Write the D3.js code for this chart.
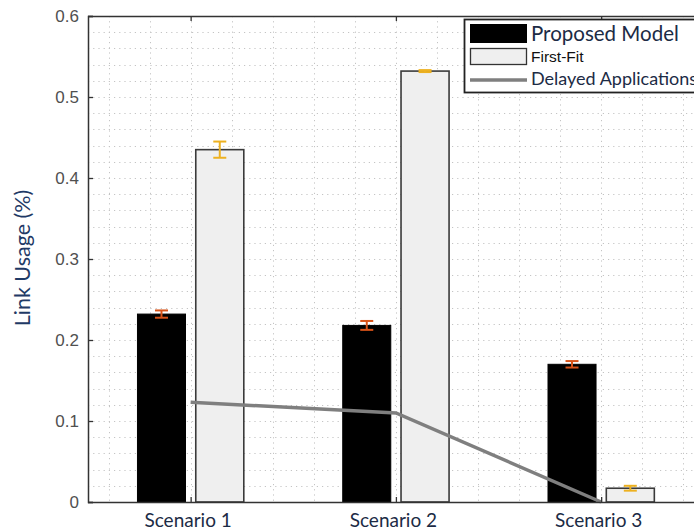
<!DOCTYPE html>
<html>
<head>
<meta charset="utf-8">
<script src="https://cdn.jsdelivr.net/npm/d3@7"></script>
<style>
  html, body { margin: 0; padding: 0; background: #fff; }
  svg { display: block; }
</style>
</head>
<body>
<svg id="chart" width="694" height="532"></svg>
<script>
// Link usage per scenario
const scenarios = ["Scenario 1", "Scenario 2", "Scenario 3"];
const proposedModel = [0.232, 0.218, 0.170];
const proposedErr = [0.0045, 0.0055, 0.004];
const firstFit = [0.435, 0.532, 0.017];
const firstFitErr = [0.010, 0.0012, 0.003];
const delayedApps = [0.123, 0.110, 0.0];
const yTicks = [0, 0.1, 0.2, 0.3, 0.4, 0.5, 0.6];
const legendLabels = ["Proposed Model", "First-Fit", "Delayed Applications"];

const svg = d3.select("#chart");
const plotLeft = 88, plotTop = 16, plotBottom = 502;

// x in category units: scenario i sits at i+1, frame spans 0.5 .. 3.5
const x = d3.scaleLinear().domain([0.5, 3.5]).range([plotLeft, 703.8]);
const y = d3.scaleLinear().domain([0, 0.6]).range([plotBottom, plotTop]);

const barOffset = 0.142, barW = 0.234;
const gridColor = "#c4c4c4";

// dotted grid
const g = svg.append("g");
d3.range(0.02, 0.6, 0.02).forEach(v => {
  g.append("line")
    .attr("x1", plotLeft).attr("x2", 694)
    .attr("y1", Math.round(y(v)) + 0.5).attr("y2", Math.round(y(v)) + 0.5)
    .attr("stroke", gridColor).attr("stroke-width", 1)
    .attr("stroke-dasharray", "1.2,4");
});
d3.range(0.6, 3.5, 0.2).forEach(v => {
  g.append("line")
    .attr("y1", plotTop).attr("y2", plotBottom)
    .attr("x1", Math.round(x(v)) + 0.5).attr("x2", Math.round(x(v)) + 0.5)
    .attr("stroke", gridColor).attr("stroke-width", 1)
    .attr("stroke-dasharray", "1.2,4");
});

// bars
const idx = d3.range(scenarios.length);
const bw = x(barW) - x(0);
svg.append("g").selectAll("rect").data(idx).join("rect")
  .attr("x", i => x(i + 1 - barOffset) - bw / 2)
  .attr("y", i => y(proposedModel[i]))
  .attr("width", bw)
  .attr("height", i => y(0) - y(proposedModel[i]))
  .attr("fill", "#000").attr("stroke", "#000").attr("stroke-width", 1);

svg.append("g").selectAll("rect").data(idx).join("rect")
  .attr("x", i => x(i + 1 + barOffset) - bw / 2)
  .attr("y", i => y(firstFit[i]))
  .attr("width", bw)
  .attr("height", i => y(0) - y(firstFit[i]))
  .attr("fill", "#efefef").attr("stroke", "#3a3a3a").attr("stroke-width", 1.6);

// error bars
function errorBars(vals, errs, off, color) {
  const eg = svg.append("g").attr("stroke", color).attr("stroke-width", 2);
  idx.forEach(i => {
    const cx = x(i + 1 + off);
    const y1 = y(vals[i] + errs[i]), y2 = y(vals[i] - errs[i]);
    eg.append("line").attr("x1", cx).attr("x2", cx).attr("y1", y1).attr("y2", y2);
    eg.append("line").attr("x1", cx - 6.5).attr("x2", cx + 6.5).attr("y1", y1).attr("y2", y1);
    eg.append("line").attr("x1", cx - 6.5).attr("x2", cx + 6.5).attr("y1", y2).attr("y2", y2);
  });
}
errorBars(proposedModel, proposedErr, -barOffset, "#d95319");
errorBars(firstFit, firstFitErr, barOffset, "#edb120");

// delayed applications line
svg.append("path")
  .datum(idx)
  .attr("fill", "none")
  .attr("stroke", "#7f7f7f")
  .attr("stroke-width", 3.5)
  .attr("d", d3.line().x(i => x(i + 1)).y(i => y(delayedApps[i])));

// frame and axes
const axisColor = "#333";
svg.append("line").attr("x1", plotLeft).attr("x2", 694).attr("y1", plotBottom + 0.5).attr("y2", plotBottom + 0.5)
  .attr("stroke", axisColor).attr("stroke-width", 1.5);
svg.append("line").attr("x1", plotLeft).attr("x2", 694).attr("y1", plotTop + 0.5).attr("y2", plotTop + 0.5)
  .attr("stroke", axisColor).attr("stroke-width", 1.5);

const yAxis = d3.axisLeft(y).tickValues(yTicks).tickSize(-5).tickPadding(9)
  .tickFormat(d => d === 0 ? "0" : d3.format(".1f")(d));
const ya = svg.append("g").attr("transform", `translate(${plotLeft},0)`).call(yAxis);
ya.select(".domain").attr("stroke", axisColor).attr("stroke-width", 1.5);
ya.selectAll(".tick line").attr("stroke", axisColor).attr("stroke-width", 1.3);
ya.selectAll("text").attr("fill", "#505050")
  .style("font-family", "'Liberation Sans', Arial, sans-serif").style("font-size", "17px");

const xAxis = d3.axisBottom(x).tickValues([1, 2, 3]).tickSize(-5).tickPadding(12)
  .tickFormat(d => scenarios[d - 1]);
const xa = svg.append("g").attr("transform", `translate(0,${plotBottom})`).call(xAxis);
xa.select(".domain").remove();
xa.selectAll(".tick line").attr("stroke", axisColor).attr("stroke-width", 1.3);
xa.selectAll("text").attr("fill", "#1c2b45").attr("dx", -3)
  .style("font-family", "Lato, 'Open Sans', sans-serif").style("font-size", "19px");

const xTop = svg.append("g").attr("transform", `translate(0,${plotTop})`)
  .call(d3.axisTop(x).tickValues([1, 2, 3]).tickSize(-5).tickFormat(""));
xTop.select(".domain").remove();
xTop.selectAll(".tick line").attr("stroke", axisColor).attr("stroke-width", 1.3);

// y label
svg.append("text")
  .attr("transform", "translate(30,258) rotate(-90)")
  .attr("text-anchor", "middle")
  .attr("fill", "#1f3a66")
  .style("font-family", "Lato, 'Open Sans', sans-serif").style("font-size", "21.5px")
  .text("Link Usage (%)");

// legend
const lg = svg.append("g");
lg.append("rect").attr("x", 464.5).attr("y", 19.5).attr("width", 260).attr("height", 73)
  .attr("fill", "#fff").attr("stroke", "#222").attr("stroke-width", 1.8);
lg.append("rect").attr("x", 470).attr("y", 24).attr("width", 57).attr("height", 19)
  .attr("fill", "#000");
lg.append("rect").attr("x", 470.5).attr("y", 48.5).attr("width", 56).attr("height", 16)
  .attr("fill", "#efefef").attr("stroke", "#333").attr("stroke-width", 1.3);
lg.append("line").attr("x1", 470).attr("x2", 527).attr("y1", 80).attr("y2", 80)
  .attr("stroke", "#7f7f7f").attr("stroke-width", 3.5);
lg.append("text").attr("x", 531).attr("y", 41).attr("fill", "#1c2b45")
  .style("font-family", "Lato, sans-serif").style("font-size", "20.5px").text(legendLabels[0]);
lg.append("text").attr("x", 531).attr("y", 62).attr("fill", "#111")
  .style("font-family", "'Liberation Sans', Arial, sans-serif").style("font-size", "15.5px").text(legendLabels[1]);
lg.append("text").attr("x", 531).attr("y", 85).attr("fill", "#1c2b45")
  .style("font-family", "Lato, sans-serif").style("font-size", "18px").text(legendLabels[2]);
</script>
</body>
</html>
